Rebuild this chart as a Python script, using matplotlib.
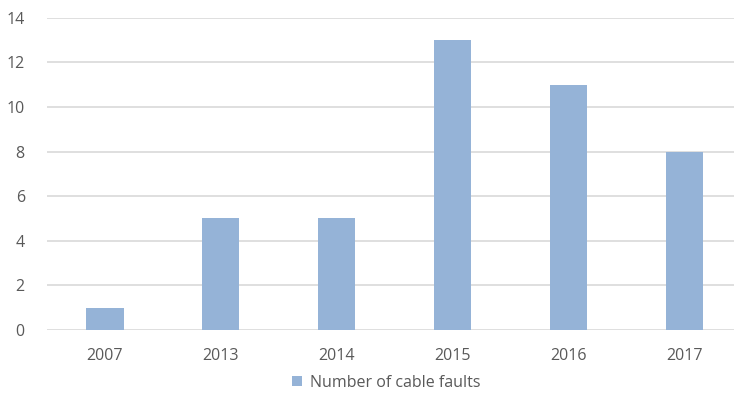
import matplotlib
matplotlib.use("Agg")
import matplotlib.pyplot as plt
import numpy as np

years = ["2007", "2013", "2014", "2015", "2016", "2017"]
faults = [1, 5, 5, 13, 11, 8]
series_name = "Number of cable faults"

W, H = 734, 394
fig = plt.figure(figsize=(W/100, H/100), dpi=100)
plt.rcParams['font.family'] = ['Open Sans', 'DejaVu Sans']

left, right = 47, 742.5
top, bottom = 17.7, 330
ax = fig.add_axes([left/W, 1 - bottom/H, (right-left)/W, (bottom-top)/H])

bar_color = "#95B3D7"
text_color = "#595959"
grid_color = "#D9D9D9"

x = np.arange(len(years))
ax.bar(x, faults, width=0.32, color=bar_color, zorder=3, label=series_name)
ax.set_xlim(-0.5, len(years) - 0.5)
ax.set_ylim(0, 14)
ax.set_yticks(range(0, 15, 2))
ax.set_xticks(x)
ax.set_xticklabels(years)
for s in ax.spines.values():
    s.set_visible(False)
ax.yaxis.grid(True, color=grid_color, linewidth=1.2, zorder=0)
ax.tick_params(axis='both', length=0, labelsize=11.5, colors=text_color)
ax.tick_params(axis='y', pad=16)
ax.tick_params(axis='x', pad=13)

leg = fig.legend(loc='center', bbox_to_anchor=(386/W, 1 - 383/H), frameon=False,
                 fontsize=11.5, handlelength=0.6, handleheight=0.6, handletextpad=0.5,
                 labelcolor=text_color)
fig.savefig("out.png", dpi=100)
